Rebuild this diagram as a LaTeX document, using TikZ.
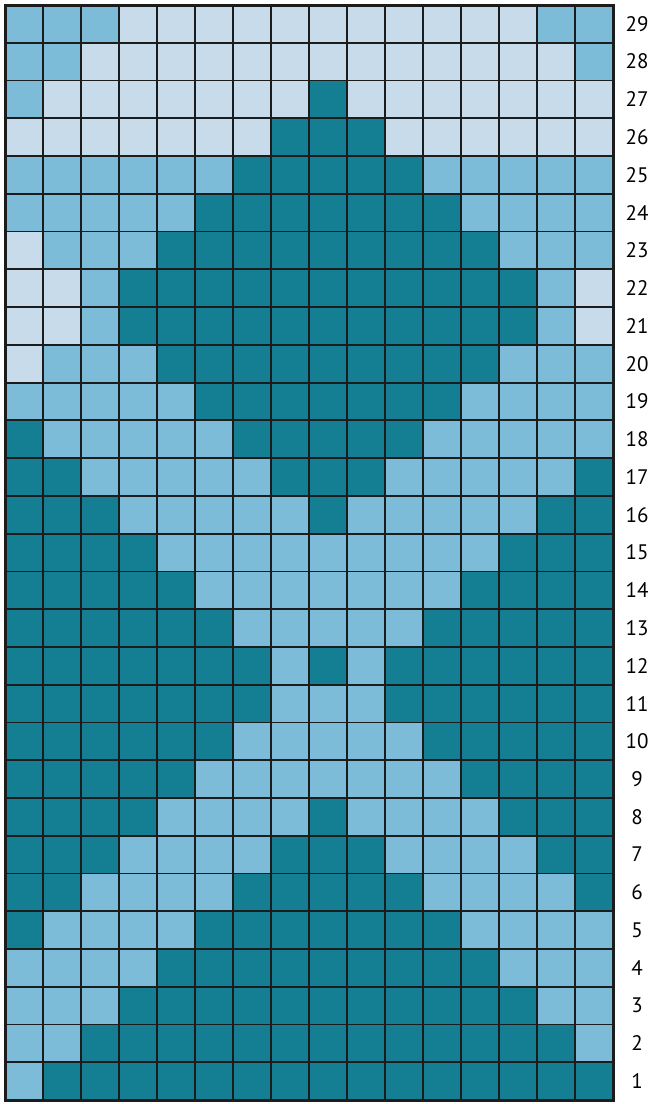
\documentclass[tikz,border=0pt]{standalone}
\usepackage{fontspec}
\setmainfont{PT Sans}
\definecolor{cD}{HTML}{147E92}
\definecolor{cM}{HTML}{7DBCD8}
\definecolor{cL}{HTML}{C8DBEA}
\definecolor{gridc}{HTML}{1C1C1C}
\begin{document}
\begin{tikzpicture}[x=1pt,y=-1pt,
  cell/.style={line width=1.8pt,draw=gridc},
  rowlabel/.style={font=\fontsize{21}{21}\selectfont,text=black,anchor=center}]
\useasboundingbox (0,0) rectangle (652,1104);
\fill[white] (0,0) rectangle (652,1104);
\def\cw{38}
\def\ch{37.76}
\foreach \row [count=\i] in {
 {M,M,M,L,L,L,L,L,L,L,L,L,L,L,M,M},
 {M,M,L,L,L,L,L,L,L,L,L,L,L,L,L,M},
 {M,L,L,L,L,L,L,L,D,L,L,L,L,L,L,L},
 {L,L,L,L,L,L,L,D,D,D,L,L,L,L,L,L},
 {M,M,M,M,M,M,D,D,D,D,D,M,M,M,M,M},
 {M,M,M,M,M,D,D,D,D,D,D,D,M,M,M,M},
 {L,M,M,M,D,D,D,D,D,D,D,D,D,M,M,M},
 {L,L,M,D,D,D,D,D,D,D,D,D,D,D,M,L},
 {L,L,M,D,D,D,D,D,D,D,D,D,D,D,M,L},
 {L,M,M,M,D,D,D,D,D,D,D,D,D,M,M,M},
 {M,M,M,M,M,D,D,D,D,D,D,D,M,M,M,M},
 {D,M,M,M,M,M,D,D,D,D,D,M,M,M,M,M},
 {D,D,M,M,M,M,M,D,D,D,M,M,M,M,M,D},
 {D,D,D,M,M,M,M,M,D,M,M,M,M,M,D,D},
 {D,D,D,D,M,M,M,M,M,M,M,M,M,D,D,D},
 {D,D,D,D,D,M,M,M,M,M,M,M,D,D,D,D},
 {D,D,D,D,D,D,M,M,M,M,M,D,D,D,D,D},
 {D,D,D,D,D,D,D,M,D,M,D,D,D,D,D,D},
 {D,D,D,D,D,D,D,M,M,M,D,D,D,D,D,D},
 {D,D,D,D,D,D,M,M,M,M,M,D,D,D,D,D},
 {D,D,D,D,D,M,M,M,M,M,M,M,D,D,D,D},
 {D,D,D,D,M,M,M,M,D,M,M,M,M,D,D,D},
 {D,D,D,M,M,M,M,D,D,D,M,M,M,M,D,D},
 {D,D,M,M,M,M,D,D,D,D,D,M,M,M,M,D},
 {D,M,M,M,M,D,D,D,D,D,D,D,M,M,M,M},
 {M,M,M,M,D,D,D,D,D,D,D,D,D,M,M,M},
 {M,M,M,D,D,D,D,D,D,D,D,D,D,D,M,M},
 {M,M,D,D,D,D,D,D,D,D,D,D,D,D,D,M},
 {M,D,D,D,D,D,D,D,D,D,D,D,D,D,D,D}} {
  \foreach \c [count=\j] in \row {
    \fill[c\c] ({5+(\j-1)*\cw},{5+(\i-1)*\ch}) rectangle ++(\cw,\ch);
  }
  \pgfmathtruncatemacro{\rn}{30-\i}
  \node[rowlabel] (lab\rn) at (637,{5+(\i-0.5)*\ch}) {\rn};
}
\foreach \j in {1,...,15}
  \draw[cell] ({5+\j*\cw},5) -- ({5+\j*\cw},{5+29*\ch});
\foreach \i in {1,...,28}
  \draw[cell] (5,{5+\i*\ch}) -- ({5+16*\cw},{5+\i*\ch});
\draw[line width=3pt,draw=gridc] (5,5) rectangle ({5+16*\cw},{5+29*\ch});
\end{tikzpicture}
\end{document}
